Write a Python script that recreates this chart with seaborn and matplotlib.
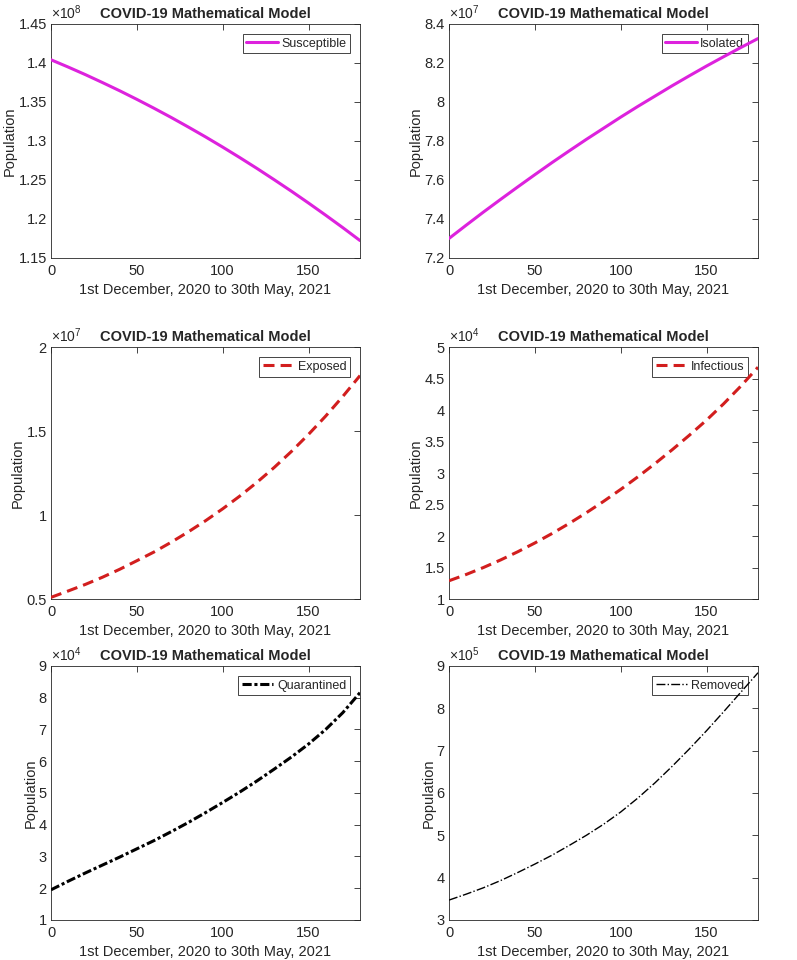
import numpy as np
import pandas as pd
import matplotlib
matplotlib.use("Agg")
import matplotlib.pyplot as plt
import seaborn as sns

# MATLAB-like look
sns.set_style("white")
plt.rcParams['font.family'] = ['Liberation Sans', 'DejaVu Sans']
plt.rcParams['mathtext.fontset'] = 'custom'
plt.rcParams['mathtext.rm'] = 'Liberation Sans'

##########################################################################
# data (in units of 10^exp)

days = [0, 10, 20, 30, 40, 50, 60, 70, 80, 90, 100, 110, 120, 130, 140, 150, 160, 170, 180]

susceptible = [1.4040, 1.3947, 1.3850, 1.3748, 1.3643, 1.3533, 1.3419, 1.3301, 1.3178, 1.3052,
               1.2921, 1.2786, 1.2647, 1.2503, 1.2356, 1.2204, 1.2048, 1.1888, 1.1723]
isolated = [7.300, 7.368, 7.435, 7.500, 7.564, 7.627, 7.689, 7.749, 7.808, 7.865,
            7.922, 7.977, 8.030, 8.083, 8.134, 8.184, 8.232, 8.279, 8.325]
exposed = [0.510, 0.548, 0.587, 0.630, 0.677, 0.728, 0.780, 0.838, 0.900, 0.966,
           1.037, 1.113, 1.195, 1.283, 1.378, 1.480, 1.589, 1.706, 1.830]
infectious = [1.29, 1.39, 1.50, 1.62, 1.75, 1.89, 2.04, 2.20, 2.37, 2.55,
              2.74, 2.94, 3.15, 3.37, 3.60, 3.84, 4.10, 4.38, 4.68]
quarantined = [1.95, 2.22, 2.48, 2.73, 2.98, 3.24, 3.50, 3.78, 4.07, 4.38,
               4.70, 5.03, 5.38, 5.75, 6.13, 6.54, 7.00, 7.53, 8.16]
removed = [3.47, 3.61, 3.76, 3.93, 4.12, 4.32, 4.53, 4.76, 5.00, 5.26,
           5.55, 5.88, 6.24, 6.63, 7.04, 7.47, 7.92, 8.38, 8.84]

names = ['Susceptible', 'Isolated', 'Exposed', 'Infectious', 'Quarantined', 'Removed']
series = [susceptible, isolated, exposed, infectious, quarantined, removed]
exponents = [8, 7, 7, 4, 4, 5]
y_limits = [(1.15, 1.45), (7.2, 8.4), (0.5, 2.0), (1.0, 5.0), (1.0, 9.0), (3.0, 9.0)]
y_ticks = [[1.15, 1.2, 1.25, 1.3, 1.35, 1.4, 1.45],
           [7.2, 7.4, 7.6, 7.8, 8, 8.2, 8.4],
           [0.5, 1, 1.5, 2],
           [1, 1.5, 2, 2.5, 3, 3.5, 4, 4.5, 5],
           [1, 2, 3, 4, 5, 6, 7, 8, 9],
           [3, 4, 5, 6, 7, 8, 9]]
x_ticks = [0, 50, 100, 150]

magenta = '#dd22dd'
red = '#d21e1e'
styles = [dict(color=magenta, linestyle='-', linewidth=2.2),
          dict(color=magenta, linestyle='-', linewidth=2.2),
          dict(color=red, linestyle=(0, (3.6, 2.0)), linewidth=2.2),
          dict(color=red, linestyle=(0, (3.6, 2.0)), linewidth=2.2),
          dict(color='black', linestyle=(0, (3, 0.9, 1, 0.9)), linewidth=2.2),
          dict(color='black', linestyle='-.', linewidth=1.0)]

##########################################################################

fig = plt.figure(figsize=(7.97, 9.6), dpi=100)

# axes boxes in figure fractions [left, bottom, width, height]
col_left = [0.064, 0.5634]
rows = [(0.7313, 0.2438), (0.376, 0.2625), (0.0417, 0.2646)]

for i, (name, vals) in enumerate(zip(names, series)):
    r, c = divmod(i, 2)
    ax = fig.add_axes([col_left[c], rows[r][0], 0.3877, rows[r][1]])
    df = pd.DataFrame({'day': days, 'value': vals})
    sns.lineplot(data=df, x='day', y='value', ax=ax, label=name, zorder=3, **styles[i])

    ax.set_xlim(0, 180)
    ax.set_ylim(*y_limits[i])
    ax.set_xticks(x_ticks)
    ax.set_yticks(y_ticks[i])
    ax.set_yticklabels(['%g' % t for t in y_ticks[i]])
    ax.tick_params(direction='in', top=True, right=True, length=4, width=0.6,
                   labelsize=10.5, colors='#262626', pad=4)
    ax.tick_params(axis='y', pad=3)
    for s in ax.spines.values():
        s.set_color('#262626')
        s.set_linewidth(0.6)

    ax.set_xlabel('1st December, 2020 to 30th May, 2021', fontsize=10.5, color='#262626')
    ax.set_ylabel('Population', fontsize=10.5, color='#262626', labelpad=1)
    ax.set_title('COVID-19 Mathematical Model', fontsize=10.5, fontweight='bold', pad=4)
    ax.text(0.0, 1.008, r'$\times10^{%d}$' % exponents[i], transform=ax.transAxes,
            fontsize=10, color='#262626', ha='left', va='bottom')

    leg = ax.legend(loc='upper right', fontsize=9, handlelength=2.5, handletextpad=0.3,
                    borderpad=0.3, fancybox=False, framealpha=1, borderaxespad=0.8)
    leg.get_frame().set_edgecolor('#262626')
    leg.get_frame().set_linewidth(0.6)
    leg.set_zorder(2)  # curve runs over the legend box, as in the original

fig.savefig('out.png', dpi=100)
